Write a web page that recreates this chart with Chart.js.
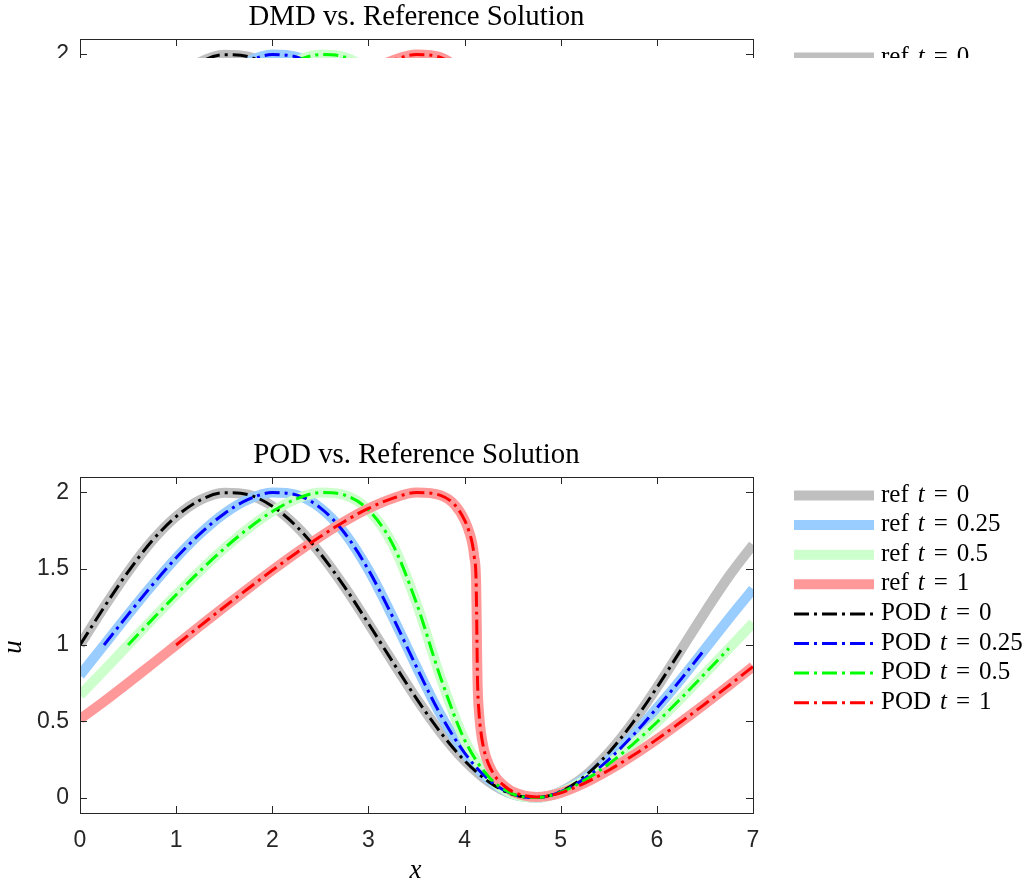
<!DOCTYPE html>
<html>
<head>
<meta charset="utf-8">
<script src="https://cdn.jsdelivr.net/npm/chart.js@4.4.1/dist/chart.umd.min.js"></script>
<style>
    body { margin: 0; background: #fff; }
    #page { position: relative; width: 1027px; height: 881px; overflow: hidden; background: #fff; }
    #top-wrap { position: absolute; left: 0; top: 0; width: 1027px; height: 58px; overflow: hidden; }
    #bottom-wrap { position: absolute; left: 0; top: 438px; width: 1027px; height: 443px; }
</style>
</head>
<body>
<div id="page">
    <div id="top-wrap"><canvas id="dmd-chart" width="1027" height="443"></canvas></div>
    <div id="bottom-wrap"><canvas id="pod-chart" width="1027" height="443"></canvas></div>
</div>
<script>
// x grid used by t = 0, 0.25, 0.5
const xGrid = [0, 0.25, 0.5, 0.75, 1, 1.25, 1.5, 1.75, 2, 2.25, 2.5, 2.75, 3, 3.25, 3.5,
    3.75, 4, 4.25, 4.5, 4.75, 5, 5.25, 5.5, 5.75, 6, 6.25, 6.5, 6.75, 7];
const uRef0 = [1.000, 1.247, 1.479, 1.682, 1.841, 1.949, 1.997, 1.984, 1.909, 1.778, 1.598, 1.382, 1.141, 0.892, 0.649,
    0.428, 0.243, 0.105, 0.022, 0.001, 0.041, 0.141, 0.295, 0.492, 0.721, 0.967, 1.215, 1.450, 1.657];
const uRef025 = [0.801, 1.000, 1.199, 1.391, 1.571, 1.729, 1.860, 1.953, 1.998, 1.983, 1.898, 1.735, 1.492, 1.187, 0.856,
    0.544, 0.294, 0.119, 0.024, 0.001, 0.038, 0.126, 0.250, 0.407, 0.587, 0.775, 0.973, 1.173, 1.366];
const uRef05 = [0.671, 0.834, 1.000, 1.166, 1.329, 1.486, 1.632, 1.763, 1.874, 1.956, 1.998, 1.982, 1.884, 1.662, 1.274,
    0.788, 0.379, 0.138, 0.025, 0.001, 0.036, 0.115, 0.221, 0.350, 0.494, 0.650, 0.813, 0.978, 1.144];

// t = 1 has a steep front near x = 4.13, so more points there
const xGrid1 = [0, 0.25, 0.5, 0.75, 1, 1.25, 1.5, 1.75, 2, 2.25, 2.5, 2.75, 3, 3.25, 3.5, 3.75,
    3.9, 4, 4.05, 4.08, 4.1, 4.12, 4.125, 4.13, 4.135, 4.15, 4.17, 4.2, 4.25, 4.33, 4.4, 4.5, 4.75,
    5, 5.25, 5.5, 5.75, 6, 6.25, 6.5, 6.75, 7];
const uRef1 = [0.515, 0.630, 0.751, 0.875, 1.000, 1.125, 1.249, 1.370, 1.489, 1.603, 1.710, 1.809, 1.894, 1.960, 1.998, 1.980,
    1.916, 1.818, 1.737, 1.665, 1.58, 1.42, 1.22, 0.97, 0.76, 0.56, 0.43, 0.32, 0.22, 0.13, 0.085, 0.04, 0.005,
    0.032, 0.096, 0.180, 0.276, 0.382, 0.496, 0.614, 0.735, 0.859];

const times = ['0', '0.25', '0.5', '1'];
const xSets = [xGrid, xGrid, xGrid, xGrid1];
const uSets = [uRef0, uRef025, uRef05, uRef1];
// x interval covered by the reduced model curves
const romRange = [[0, 6.28], [0.25, 6.53], [0.5, 6.78], [1, 7]];

const refColors = ['#bfbfbf', '#99ccff', '#ccffcc', '#ff9999'];
const romColors = ['#000000', '#0000ff', '#00ff00', '#ff0000'];

const xTicks = [0, 1, 2, 3, 4, 5, 6, 7];
const yTicks = [0, 0.5, 1, 1.5, 2];

const AXIS_COLOR = '#262626';
const SERIF = "'Liberation Serif', 'Times New Roman', serif";
const SANS = "'Liberation Sans', Arial, sans-serif";

function toPoints(xs, us, range) {
    const pts = [];
    xs.forEach((x, i) => {
        if (!range || (x >= range[0] - 1e-9 && x <= range[1] + 1e-9)) pts.push({ x: x, y: us[i] });
    });
    return pts;
}

function drawParts(ctx, parts, x, y) {
    parts.forEach(p => {
        ctx.font = p.font;
        ctx.fillText(p.text, x + (p.dx || 0), y);
        x += (p.dx || 0) + ctx.measureText(p.text).width;
    });
}

const matlabAxes = {
    id: 'matlabAxes',
    afterDraw(chart, args, opts) {
        const ctx = chart.ctx;
        const area = chart.chartArea;
        const xs = chart.scales.x;
        const ys = chart.scales.y;
        ctx.save();

        // box and inward ticks
        ctx.strokeStyle = AXIS_COLOR;
        ctx.lineWidth = 1;
        ctx.setLineDash([]);
        ctx.beginPath();
        xTicks.forEach(v => {
            const px = Math.round(xs.getPixelForValue(v)) + 0.5;
            ctx.moveTo(px, area.bottom); ctx.lineTo(px, area.bottom - 7);
            ctx.moveTo(px, area.top); ctx.lineTo(px, area.top + 7);
        });
        yTicks.forEach(v => {
            const py = Math.round(ys.getPixelForValue(v)) + 0.5;
            ctx.moveTo(area.left, py); ctx.lineTo(area.left + 7, py);
            ctx.moveTo(area.right, py); ctx.lineTo(area.right - 7, py);
        });
        ctx.stroke();
        ctx.strokeRect(Math.round(area.left) + 0.5, Math.round(area.top) + 0.5,
            Math.round(area.right - area.left), Math.round(area.bottom - area.top));

        // title
        ctx.fillStyle = '#000';
        ctx.font = '28.8px ' + SERIF;
        ctx.textAlign = 'center';
        ctx.textBaseline = 'alphabetic';
        ctx.fillText(opts.title, (area.left + area.right) / 2, area.top - 14);

        // axis labels
        ctx.font = 'italic 27px ' + SERIF;
        ctx.fillText('x', (area.left + area.right) / 2 - 1, area.bottom + 65);
        ctx.save();
        ctx.translate(21, (area.top + area.bottom) / 2 + 2);
        ctx.rotate(-Math.PI / 2);
        ctx.fillText('u', 0, 0);
        ctx.restore();

        // legend
        ctx.textAlign = 'left';
        chart.data.datasets.forEach((ds, i) => {
            const y = area.top + 18.5 + i * 29.6;
            ctx.strokeStyle = ds.borderColor;
            ctx.lineWidth = ds.borderWidth;
            ctx.setLineDash(ds.borderDash || []);
            ctx.beginPath();
            ctx.moveTo(794, y);
            ctx.lineTo(874, y);
            ctx.stroke();
            ctx.setLineDash([]);
            ctx.fillStyle = '#000';
            const up = '25px ' + SERIF;
            const it = 'italic 25px ' + SERIF;
            drawParts(ctx, [
                { text: ds.label, font: up },
                { text: 't', font: it, dx: 9 },
                { text: '=', font: up, dx: 9 },
                { text: ds.time, font: up, dx: 9 }
            ], 881, y + 6);
        });
        ctx.restore();
    }
};

function buildChart(target, method, title) {
    const datasets = [];
    times.forEach((t, i) => {
        datasets.push({
            label: 'ref',
            time: t,
            data: toPoints(xSets[i], uSets[i]),
            borderColor: refColors[i],
            borderWidth: 10,
            order: 7 - i
        });
    });
    times.forEach((t, i) => {
        datasets.push({
            label: method,
            time: t,
            data: toPoints(xSets[i], uSets[i], romRange[i]),
            borderColor: romColors[i],
            borderWidth: 3,
            borderDash: [15, 5, 3, 5],
            order: 3 - i
        });
    });

    new Chart(document.getElementById(target), {
        type: 'line',
        data: { datasets: datasets },
        options: {
            responsive: false,
            animation: false,
            events: [],
            layout: { padding: { left: 0, right: 274, top: 39, bottom: 0 } },
            elements: {
                point: { radius: 0 },
                line: { cubicInterpolationMode: 'monotone', fill: false, borderCapStyle: 'butt' }
            },
            datasets: { line: { clip: 0 } },
            scales: {
                x: {
                    type: 'linear',
                    min: 0,
                    max: 7,
                    afterBuildTicks: s => { s.ticks = xTicks.map(v => ({ value: v })); },
                    afterFit: s => { s.height = 68; },
                    grid: { display: false, drawTicks: false },
                    border: { display: false },
                    ticks: { color: AXIS_COLOR, padding: 14, maxRotation: 0, font: { family: SANS, size: 23 }, callback: v => String(v) }
                },
                y: {
                    min: -0.1,
                    max: 2.1,
                    afterBuildTicks: s => { s.ticks = yTicks.map(v => ({ value: v })); },
                    afterFit: s => { s.width = 80; },
                    grid: { display: false, drawTicks: false },
                    border: { display: false },
                    ticks: { color: AXIS_COLOR, padding: 11, font: { family: SANS, size: 23 }, callback: v => String(v) }
                }
            },
            plugins: {
                legend: { display: false },
                tooltip: { enabled: false },
                matlabAxes: { title: title }
            }
        },
        plugins: [matlabAxes]
    });
}

buildChart('dmd-chart', 'DMD', 'DMD vs. Reference Solution');
buildChart('pod-chart', 'POD', 'POD vs. Reference Solution');
</script>
</body>
</html>
